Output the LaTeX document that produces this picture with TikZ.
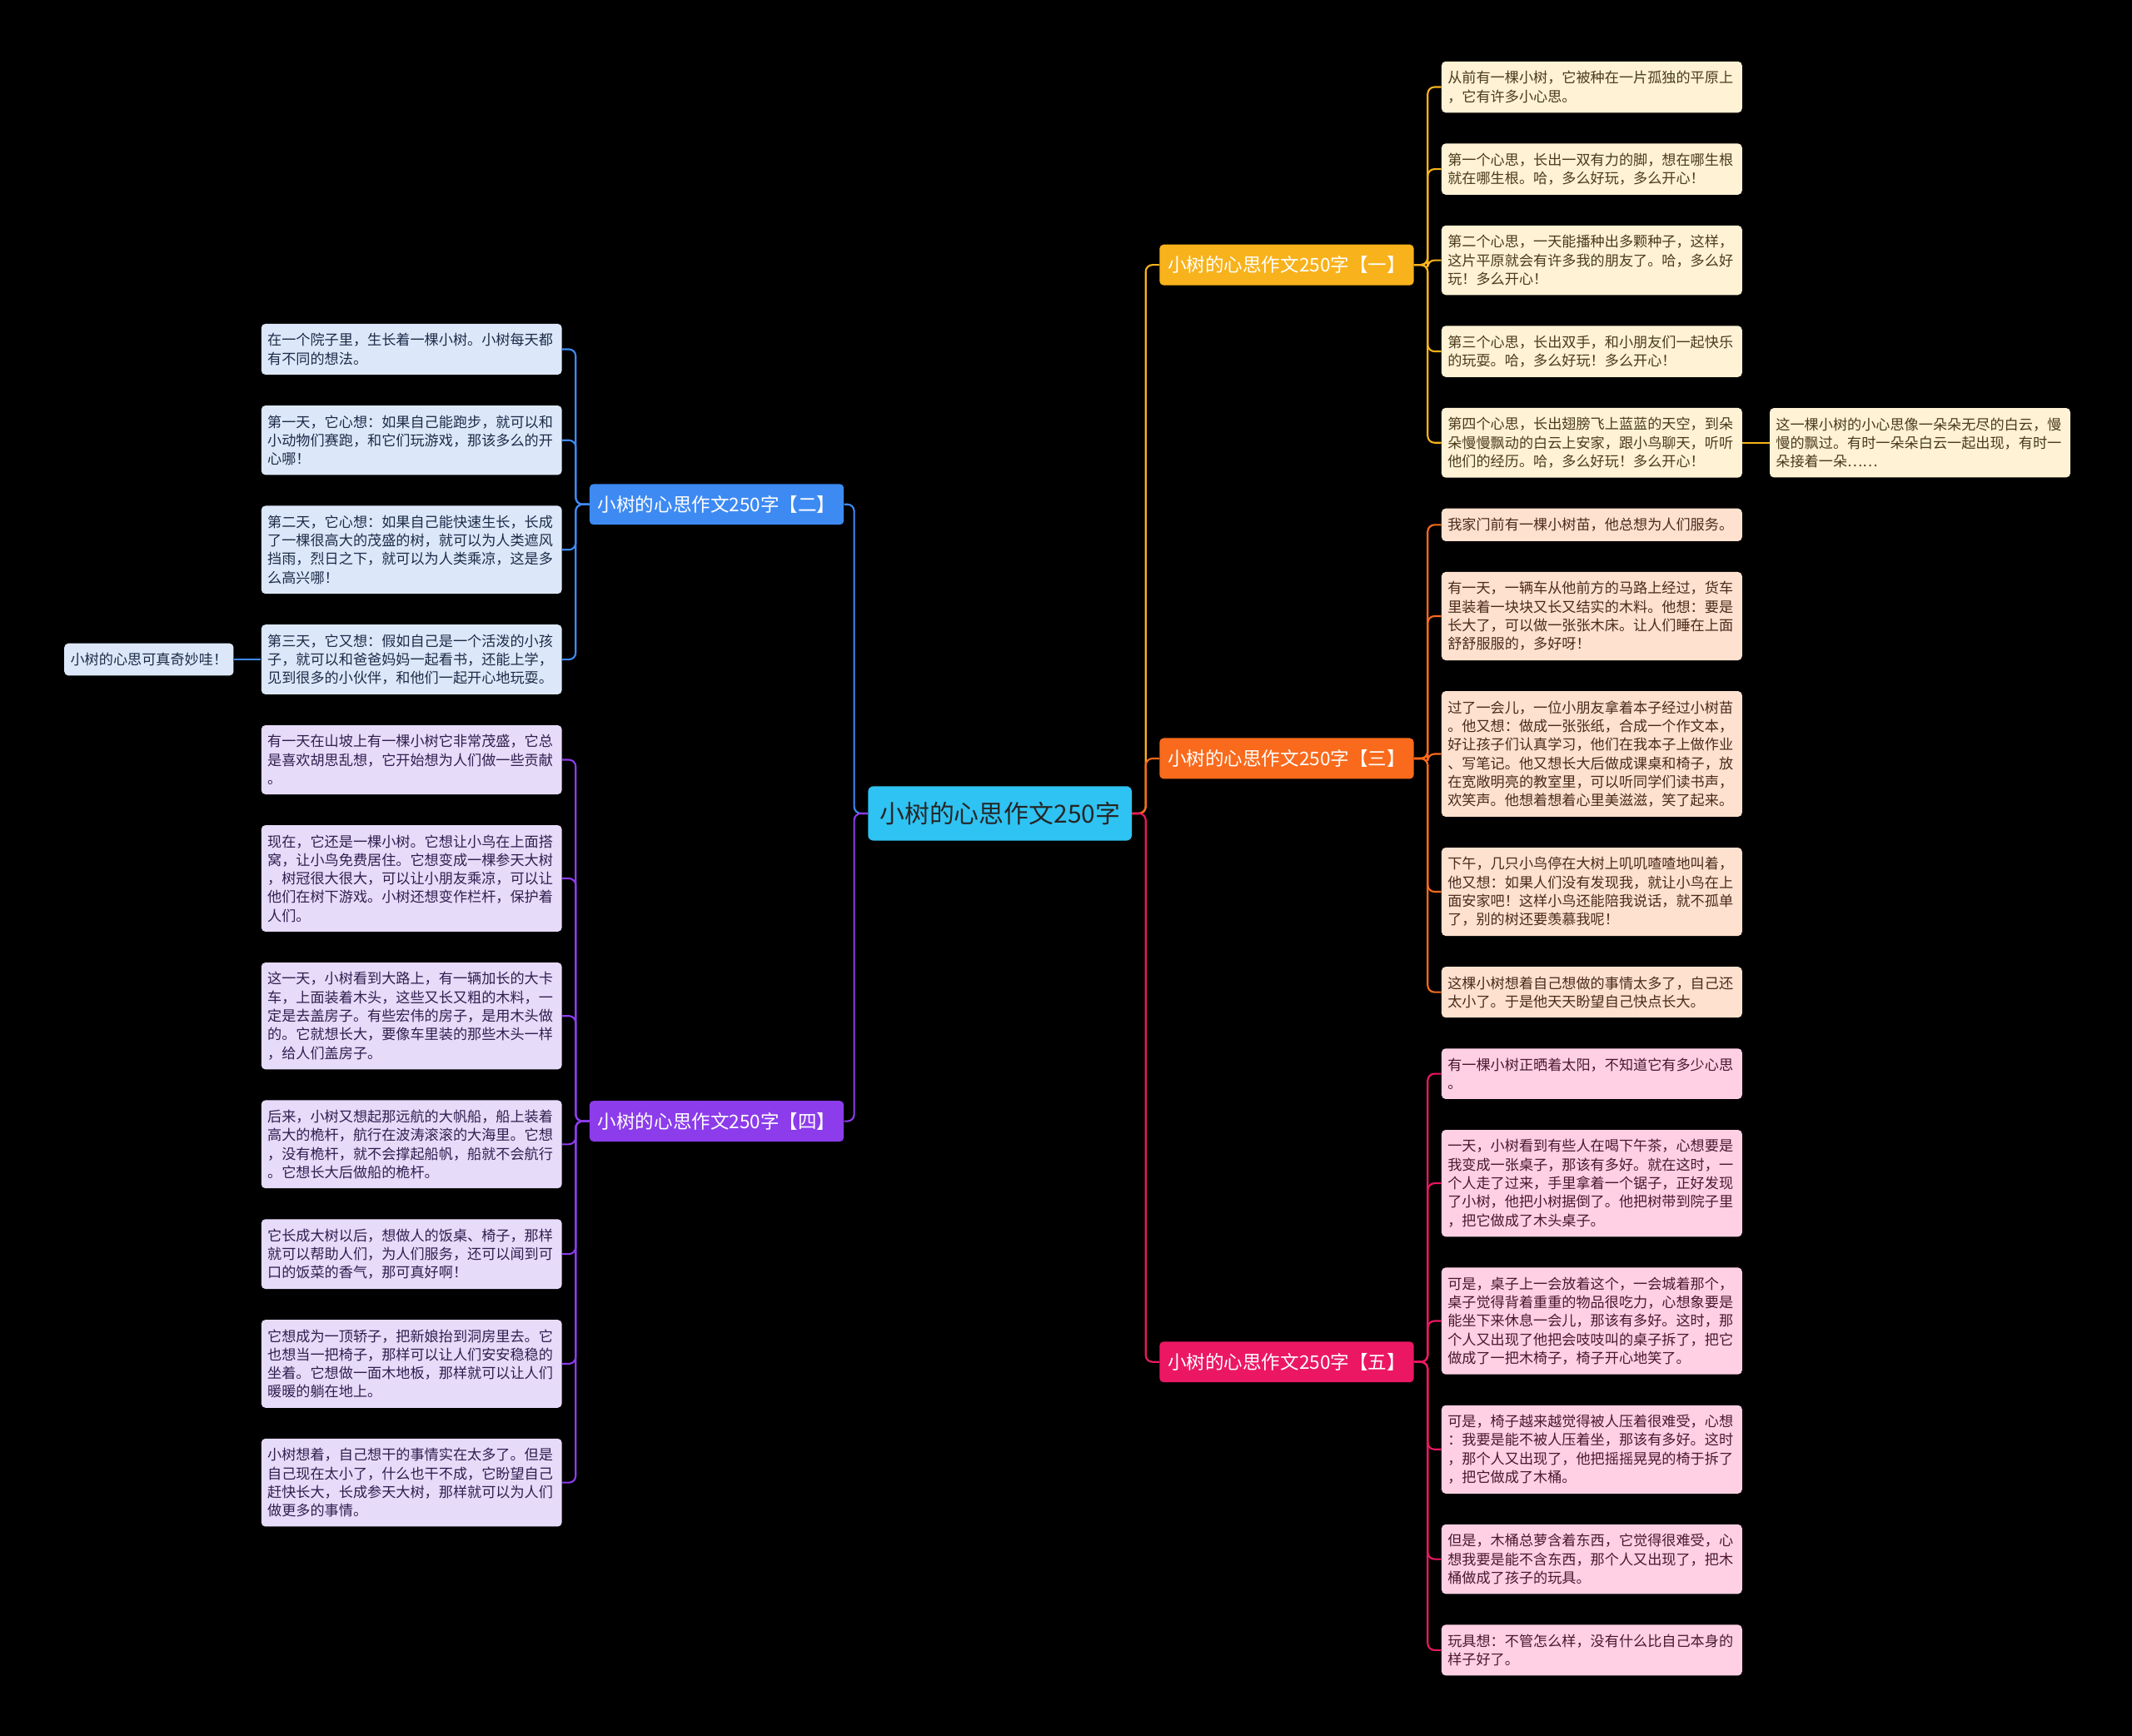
\documentclass[tikz,border=0pt]{standalone}
\usepackage{fontspec}
\setmainfont{Noto Sans CJK SC}
\usetikzlibrary{positioning,calc}

\definecolor{rootcyan}{HTML}{2EC3F2}
\definecolor{partyellow}{HTML}{F8B21B}
\definecolor{partorange}{HTML}{FA6A1C}
\definecolor{partred}{HTML}{EC1763}
\definecolor{partblue}{HTML}{3E8AF3}
\definecolor{partviolet}{HTML}{8C3CEB}
\definecolor{leafyellow}{HTML}{FFF2D5}
\definecolor{leaforange}{HTML}{FFE1CF}
\definecolor{leafred}{HTML}{FFD0E3}
\definecolor{leafblue}{HTML}{DCE8FA}
\definecolor{leafviolet}{HTML}{E7DBFA}
\definecolor{inkyellow}{HTML}{4A3B1C}
\definecolor{inkorange}{HTML}{4A2B1C}
\definecolor{inkred}{HTML}{4A1830}
\definecolor{inkblue}{HTML}{1E2B48}
\definecolor{inkviolet}{HTML}{2F1F4F}

\begin{document}
\begin{tikzpicture}[x=1pt, y=-1pt, node distance=22.3pt]
    \tikzstyle{leaf}=[rectangle,rounded corners=3pt,align=left,text width=212pt,inner xsep=4.5pt,inner ysep=7pt,font=\fontsize{10.5pt}{13.65pt}\selectfont]
    \tikzstyle{leafY}=[leaf,fill=leafyellow,text=inkyellow]
    \tikzstyle{leafO}=[leaf,fill=leaforange,text=inkorange]
    \tikzstyle{leafR}=[leaf,fill=leafred,text=inkred]
    \tikzstyle{leafB}=[leaf,fill=leafblue,text=inkblue]
    \tikzstyle{leafV}=[leaf,fill=leafviolet,text=inkviolet]
    \tikzstyle{part}=[rectangle,rounded corners=3pt,minimum width=187pt,minimum height=30pt,inner xsep=2pt,text=white,font=\fontsize{13.8pt}{16pt}\selectfont]
    \tikzstyle{root}=[rectangle,rounded corners=4pt,fill=rootcyan,text=black!85,minimum width=194pt,minimum height=40pt,font=\fontsize{18.3pt}{22pt}\selectfont]
    \tikzstyle{link}=[line width=1.3pt,rounded corners=5pt]

    \fill[black] (0,0) rectangle (1568,1277);
    \useasboundingbox (0,0) rectangle (1568,1277);

    % right side, part one
    \node[leafY,anchor=north west] (idea1a) at (1060,45) {从前有一棵小树，它被种在一片孤独的平原上\\，它有许多小心思。};
    \node[leafY,below=of idea1a] (idea1b) {第一个心思，长出一双有力的脚，想在哪生根\\就在哪生根。哈，多么好玩，多么开心！};
    \node[leafY,below=of idea1b] (idea1c) {第二个心思，一天能播种出多颗种子，这样，\\这片平原就会有许多我的朋友了。哈，多么好\\玩！多么开心！};
    \node[leafY,below=of idea1c] (idea1d) {第三个心思，长出双手，和小朋友们一起快乐\\的玩耍。哈，多么好玩！多么开心！};
    \node[leafY,below=of idea1d] (idea1e) {第四个心思，长出翅膀飞上蓝蓝的天空，到朵\\朵慢慢飘动的白云上安家，跟小鸟聊天，听听\\他们的经历。哈，多么好玩！多么开心！};
    \node[leafY,right=20pt of idea1e] (idea1f) {这一棵小树的小心思像一朵朵无尽的白云，慢\\慢的飘过。有时一朵朵白云一起出现，有时一\\朵接着一朵……};

    % right side, part three
    \node[leafO,below=of idea1e] (idea3a) {我家门前有一棵小树苗，他总想为人们服务。};
    \node[leafO,below=of idea3a] (idea3b) {有一天，一辆车从他前方的马路上经过，货车\\里装着一块块又长又结实的木料。他想：要是\\长大了，可以做一张张木床。让人们睡在上面\\舒舒服服的，多好呀！};
    \node[leafO,below=of idea3b] (idea3c) {过了一会儿，一位小朋友拿着本子经过小树苗\\。他又想：做成一张张纸，合成一个作文本，\\好让孩子们认真学习，他们在我本子上做作业\\、写笔记。他又想长大后做成课桌和椅子，放\\在宽敞明亮的教室里，可以听同学们读书声，\\欢笑声。他想着想着心里美滋滋，笑了起来。};
    \node[leafO,below=of idea3c] (idea3d) {下午，几只小鸟停在大树上叽叽喳喳地叫着，\\他又想：如果人们没有发现我，就让小鸟在上\\面安家吧！这样小鸟还能陪我说话，就不孤单\\了，别的树还要羡慕我呢！};
    \node[leafO,below=of idea3d] (idea3e) {这棵小树想着自己想做的事情太多了，自己还\\太小了。于是他天天盼望自己快点长大。};

    % right side, part five
    \node[leafR,below=of idea3e] (idea5a) {有一棵小树正晒着太阳，不知道它有多少心思\\。};
    \node[leafR,below=of idea5a] (idea5b) {一天，小树看到有些人在喝下午茶，心想要是\\我变成一张桌子，那该有多好。就在这时，一\\个人走了过来，手里拿着一个锯子，正好发现\\了小树，他把小树据倒了。他把树带到院子里\\，把它做成了木头桌子。};
    \node[leafR,below=of idea5b] (idea5c) {可是，桌子上一会放着这个，一会城着那个，\\桌子觉得背着重重的物品很吃力，心想象要是\\能坐下来休息一会儿，那该有多好。这时，那\\个人又出现了他把会吱吱叫的桌子拆了，把它\\做成了一把木椅子，椅子开心地笑了。};
    \node[leafR,below=of idea5c] (idea5d) {可是，椅子越来越觉得被人压着很难受，心想\\：我要是能不被人压着坐，那该有多好。这时\\，那个人又出现了，他把摇摇晃晃的椅于拆了\\，把它做成了木桶。};
    \node[leafR,below=of idea5d] (idea5e) {但是，木桶总萝含着东西，它觉得很难受，心\\想我要是能不含东西，那个人又出现了，把木\\桶做成了孩子的玩具。};
    \node[leafR,below=of idea5e] (idea5f) {玩具想：不管怎么样，没有什么比自己本身的\\样子好了。};

    % left side, part two
    \node[leafB,anchor=north west] (idea2a) at (192,238) {在一个院子里，生长着一棵小树。小树每天都\\有不同的想法。};
    \node[leafB,below=of idea2a] (idea2b) {第一天，它心想：如果自己能跑步，就可以和\\小动物们赛跑，和它们玩游戏，那该多么的开\\心哪！};
    \node[leafB,below=of idea2b] (idea2c) {第二天，它心想：如果自己能快速生长，长成\\了一棵很高大的茂盛的树，就可以为人类遮风\\挡雨，烈日之下，就可以为人类乘凉，这是多\\么高兴哪！};
    \node[leafB,below=of idea2c] (idea2d) {第三天，它又想：假如自己是一个活泼的小孩\\子，就可以和爸爸妈妈一起看书，还能上学，\\见到很多的小伙伴，和他们一起开心地玩耍。};
    \node[leafB,text width=,left=20pt of idea2d] (idea2e) {小树的心思可真奇妙哇！};

    % left side, part four
    \node[leafV,below=of idea2d] (idea4a) {有一天在山坡上有一棵小树它非常茂盛，它总\\是喜欢胡思乱想，它开始想为人们做一些贡献\\。};
    \node[leafV,below=of idea4a] (idea4b) {现在，它还是一棵小树。它想让小鸟在上面搭\\窝，让小鸟免费居住。它想变成一棵参天大树\\，树冠很大很大，可以让小朋友乘凉，可以让\\他们在树下游戏。小树还想变作栏杆，保护着\\人们。};
    \node[leafV,below=of idea4b] (idea4c) {这一天，小树看到大路上，有一辆加长的大卡\\车，上面装着木头，这些又长又粗的木料，一\\定是去盖房子。有些宏伟的房子，是用木头做\\的。它就想长大，要像车里装的那些木头一样\\，给人们盖房子。};
    \node[leafV,below=of idea4c] (idea4d) {后来，小树又想起那远航的大帆船，船上装着\\高大的桅杆，航行在波涛滚滚的大海里。它想\\，没有桅杆，就不会撑起船帆，船就不会航行\\。它想长大后做船的桅杆。};
    \node[leafV,below=of idea4d] (idea4e) {它长成大树以后，想做人的饭桌、椅子，那样\\就可以帮助人们，为人们服务，还可以闻到可\\口的饭菜的香气，那可真好啊！};
    \node[leafV,below=of idea4e] (idea4f) {它想成为一顶轿子，把新娘抬到洞房里去。它\\也想当一把椅子，那样可以让人们安安稳稳的\\坐着。它想做一面木地板，那样就可以让人们\\暖暖的躺在地上。};
    \node[leafV,below=of idea4f] (idea4g) {小树想着，自己想干的事情实在太多了。但是\\自己现在太小了，什么也干不成，它盼望自己\\赶快长大，长成参天大树，那样就可以为人们\\做更多的事情。};

    % the five parts and the root
    \node[part,fill=partyellow,anchor=east,xshift=-20pt] (part1) at ($(idea1a.west)!0.5!(idea1e.west)$) {小树的心思作文250字【一】};
    \node[part,fill=partorange,anchor=east,xshift=-20pt] (part3) at ($(idea3a.west)!0.5!(idea3e.west)$) {小树的心思作文250字【三】};
    \node[part,fill=partred,anchor=east,xshift=-20pt] (part5) at ($(idea5a.west)!0.5!(idea5f.west)$) {小树的心思作文250字【五】};
    \node[part,fill=partblue,anchor=west,xshift=20pt] (part2) at ($(idea2a.east)!0.5!(idea2d.east)$) {小树的心思作文250字【二】};
    \node[part,fill=partviolet,anchor=west,xshift=20pt] (part4) at ($(idea4a.east)!0.5!(idea4g.east)$) {小树的心思作文250字【四】};
    \node[root,anchor=east,xshift=-20pt] (root) at ($(part1.west)!0.5!(part5.west)$) {小树的心思作文250字};

    % connectors
    \draw[link,partblue] (root.west) -- ++(-10pt,0pt) |- (part2.east);
    \draw[link,partviolet] (root.west) -- ++(-10pt,0pt) |- (part4.east);
    \draw[link,partyellow] (root.east) -- ++(10pt,0pt) |- (part1.west);
    \draw[link,partorange] (root.east) -- ++(10pt,0pt) |- (part3.west);
    \draw[link,partred] (root.east) -- ++(10pt,0pt) |- (part5.west);

    \draw[link,partyellow] (part1.east) -- ++(10pt,0pt) |- (idea1a.west);
    \draw[link,partyellow] (part1.east) -- ++(10pt,0pt) |- (idea1b.west);
    \draw[link,partyellow] (part1.east) -- ++(10pt,0pt) |- (idea1c.west);
    \draw[link,partyellow] (part1.east) -- ++(10pt,0pt) |- (idea1d.west);
    \draw[link,partyellow] (part1.east) -- ++(10pt,0pt) |- (idea1e.west);
    \draw[link,partyellow] (idea1e.east) -- (idea1f.west);

    \draw[link,partorange] (part3.east) -- ++(10pt,0pt) |- (idea3a.west);
    \draw[link,partorange] (part3.east) -- ++(10pt,0pt) |- (idea3b.west);
    \draw[link,partorange] (part3.east) -- ++(10pt,0pt) |- (idea3c.west);
    \draw[link,partorange] (part3.east) -- ++(10pt,0pt) |- (idea3d.west);
    \draw[link,partorange] (part3.east) -- ++(10pt,0pt) |- (idea3e.west);

    \draw[link,partred] (part5.east) -- ++(10pt,0pt) |- (idea5a.west);
    \draw[link,partred] (part5.east) -- ++(10pt,0pt) |- (idea5b.west);
    \draw[link,partred] (part5.east) -- ++(10pt,0pt) |- (idea5c.west);
    \draw[link,partred] (part5.east) -- ++(10pt,0pt) |- (idea5d.west);
    \draw[link,partred] (part5.east) -- ++(10pt,0pt) |- (idea5e.west);
    \draw[link,partred] (part5.east) -- ++(10pt,0pt) |- (idea5f.west);

    \draw[link,partblue] (part2.west) -- ++(-10pt,0pt) |- (idea2a.east);
    \draw[link,partblue] (part2.west) -- ++(-10pt,0pt) |- (idea2b.east);
    \draw[link,partblue] (part2.west) -- ++(-10pt,0pt) |- (idea2c.east);
    \draw[link,partblue] (part2.west) -- ++(-10pt,0pt) |- (idea2d.east);
    \draw[link,partblue] (idea2d.west) -- (idea2e.east);

    \draw[link,partviolet] (part4.west) -- ++(-10pt,0pt) |- (idea4a.east);
    \draw[link,partviolet] (part4.west) -- ++(-10pt,0pt) |- (idea4b.east);
    \draw[link,partviolet] (part4.west) -- ++(-10pt,0pt) |- (idea4c.east);
    \draw[link,partviolet] (part4.west) -- ++(-10pt,0pt) |- (idea4d.east);
    \draw[link,partviolet] (part4.west) -- ++(-10pt,0pt) |- (idea4e.east);
    \draw[link,partviolet] (part4.west) -- ++(-10pt,0pt) |- (idea4f.east);
    \draw[link,partviolet] (part4.west) -- ++(-10pt,0pt) |- (idea4g.east);
\end{tikzpicture}
\end{document}
